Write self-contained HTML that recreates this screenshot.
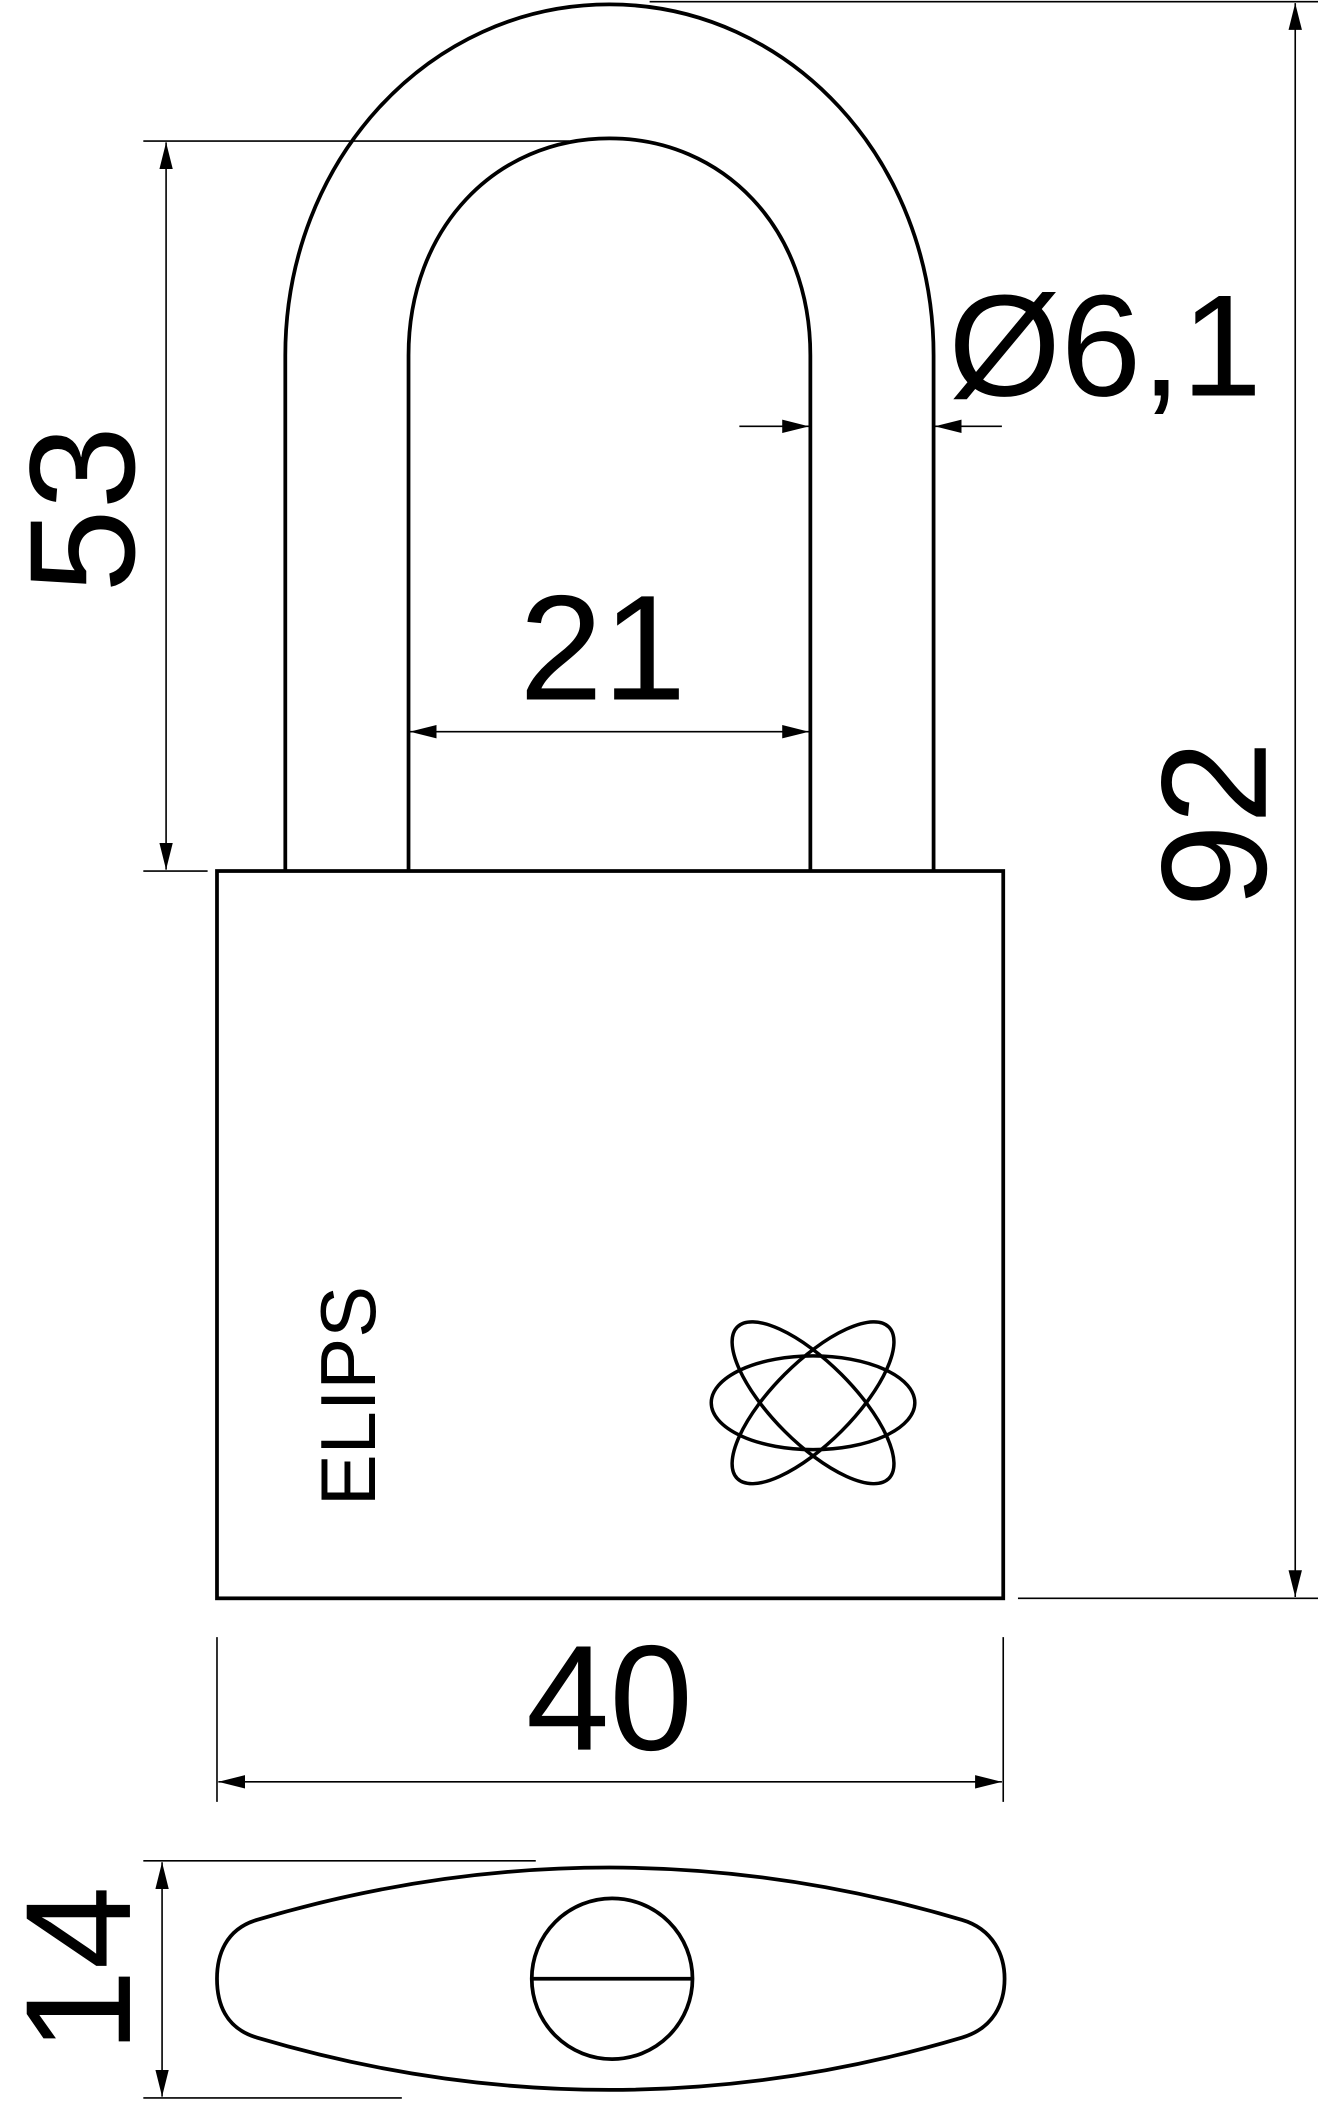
<!DOCTYPE html>
<html><head><meta charset="utf-8"><style>
html,body{margin:0;padding:0;background:#fff}
svg{display:block}
text{font-family:"Liberation Sans",sans-serif;fill:#000}
</style></head><body>
<svg width="1318" height="2101" viewBox="0 0 984 1568" xmlns="http://www.w3.org/2000/svg">
<defs>
<marker id="a" markerWidth="20" markerHeight="10" refX="20" refY="5" orient="auto-start-reverse" markerUnits="userSpaceOnUse">
<path d="M0,0 L20,5 L0,10 Z" fill="#000"/></marker>
</defs>
<g fill="none" stroke="#000" stroke-width="2.8">
<path d="M213,650 L213,265 C213,120 320,3 455,3 C590,3 697,120 697,265 L697,650"/>
<path d="M305,650 L305,265 C305,170 370,103 455,103 C540,103 605,170 605,265 L605,650"/>
<rect x="162" y="650" width="587" height="543"/>
<path d="M192,1433 Q455,1355 718,1433 C742,1440 750,1460 750,1477 C750,1495 742,1514 718,1521 Q455,1599 192,1521 C168,1514 162,1495 162,1477 C162,1460 168,1440 192,1433 Z"/>
<circle cx="457" cy="1477" r="60"/>
<line x1="397" y1="1477" x2="517" y2="1477"/>
<g stroke-width="2.6">
<ellipse cx="607" cy="1047" rx="76" ry="35"/>
<ellipse cx="607" cy="1047" rx="80" ry="30" transform="rotate(45 607 1047)"/>
<ellipse cx="607" cy="1047" rx="80" ry="30" transform="rotate(-45 607 1047)"/>
</g>
</g>
<g fill="none" stroke="#000" stroke-width="1.2">
<line x1="107" y1="105" x2="425" y2="105"/>
<line x1="107" y1="650" x2="155" y2="650"/>
<line x1="124" y1="106" x2="124" y2="649" marker-start="url(#a)" marker-end="url(#a)"/>
<line x1="485" y1="1" x2="984" y2="1"/>
<line x1="760" y1="1193" x2="984" y2="1193"/>
<line x1="967" y1="2" x2="967" y2="1192" marker-start="url(#a)" marker-end="url(#a)"/>
<line x1="306" y1="546" x2="604" y2="546" marker-start="url(#a)" marker-end="url(#a)"/>
<line x1="552" y1="318" x2="604" y2="318" marker-end="url(#a)"/>
<line x1="748" y1="318" x2="698" y2="318" marker-end="url(#a)"/>
<line x1="162" y1="1222" x2="162" y2="1345"/>
<line x1="749" y1="1222" x2="749" y2="1345"/>
<line x1="163" y1="1330" x2="748" y2="1330" marker-start="url(#a)" marker-end="url(#a)"/>
<line x1="107" y1="1389" x2="400" y2="1389"/>
<line x1="107" y1="1566" x2="300" y2="1566"/>
<line x1="121" y1="1390" x2="121" y2="1565" marker-start="url(#a)" marker-end="url(#a)"/>
</g>
<text x="450" y="522" font-size="112" text-anchor="middle">21</text>
<text x="455" y="1306" font-size="112" text-anchor="middle">40</text>
<text x="708" y="295" font-size="108">Ø6,1</text>
<text transform="translate(100,380) rotate(-90)" font-size="112" text-anchor="middle">53</text>
<text transform="translate(945,615) rotate(-90)" font-size="112" text-anchor="middle">92</text>
<text transform="translate(97,1470) rotate(-90)" font-size="112" text-anchor="middle">14</text>
<text transform="translate(280,1042) rotate(-90)" font-size="58" text-anchor="middle">ELIPS</text>
</svg>
</body></html>
